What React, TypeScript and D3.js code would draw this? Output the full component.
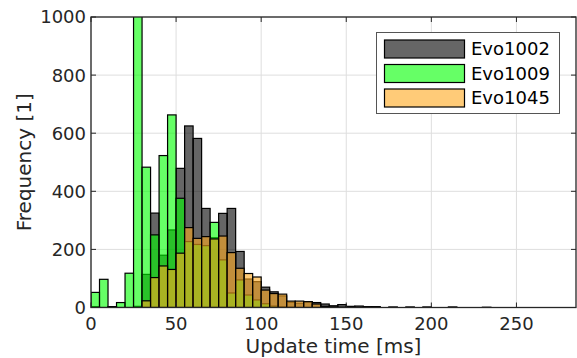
import React, { useEffect, useRef } from "react";
import * as d3 from "d3";

const binWidth = 5;
const seriesNames = ["Evo1002", "Evo1009", "Evo1045"];
const evo1002 = [3, 0, 3, 0, 0, 4, 114, 325, 180, 267, 479, 625, 582, 341, 240, 324, 341, 193, 98, 89, 70, 54, 40, 18, 15, 20, 17, 12, 6, 10, 4, 5, 3, 3, 0, 2, 0, 2, 0, 2, 0, 0, 2, 0, 0, 0, 1];
const evo1009 = [52, 97, 3, 17, 118, 1100, 483, 250, 523, 663, 376, 227, 217, 213, 293, 164, 50, 95, 43, 26, 13, 5, 2, 1, 0, 0, 0, 0, 0, 0, 0, 0, 0, 0, 0, 0, 0, 0, 0, 0, 0, 0, 0, 0, 0, 0, 0];
const evo1045 = [0, 0, 0, 0, 0, 0, 23, 103, 143, 131, 187, 275, 238, 244, 236, 246, 189, 135, 117, 105, 60, 48, 46, 22, 22, 20, 12, 4, 2, 1, 1, 0, 0, 0, 0, 0, 0, 0, 0, 0, 0, 0, 0, 0, 0, 0, 0];
const seriesColors = ["rgb(0,0,0)", "rgb(0,255,0)", "rgb(255,168,30)"];
const xTicks = [0, 50, 100, 150, 200, 250];
const yTicks = [0, 200, 400, 600, 800, 1000];
const xDomain = [0, 285];
const yDomain = [0, 1000];
const xLabel = "Update time [ms]";
const yLabel = "Frequency [1]";

const W = 577, H = 358;
const M = { left: 91, top: 17, right: 1, bottom: 50.5 };
const FONT = "'DejaVu Sans', sans-serif";
const TXT = "#262626";

export default function App() {
  const ref = useRef<SVGSVGElement>(null);
  useEffect(() => {
    const svg = d3.select(ref.current);
    svg.selectAll("*").remove();
    const pw = W - M.left - M.right;
    const ph = H - M.top - M.bottom;
    const x = d3.scaleLinear().domain(xDomain).range([M.left, M.left + pw]);
    const y = d3.scaleLinear().domain(yDomain).range([M.top + ph, M.top]);

    svg.append("defs").append("clipPath").attr("id", "clip")
      .append("rect").attr("x", M.left).attr("y", M.top).attr("width", pw).attr("height", ph);

    svg.append("rect").attr("x", M.left).attr("y", M.top).attr("width", pw).attr("height", ph).attr("fill", "white");

    const grid = svg.append("g").attr("stroke", "#dedede").attr("stroke-width", 1);
    xTicks.forEach(t => grid.append("line").attr("x1", x(t)).attr("x2", x(t)).attr("y1", M.top).attr("y2", M.top + ph));
    yTicks.forEach(t => grid.append("line").attr("x1", M.left).attr("x2", M.left + pw).attr("y1", y(t)).attr("y2", y(t)));

    const bars = svg.append("g").attr("clip-path", "url(#clip)");
    [evo1002, evo1009, evo1045].forEach((data, si) => {
      const g = bars.append("g");
      g.selectAll("rect").data(data).join("rect")
        .attr("x", (_, i) => x(i * binWidth))
        .attr("width", (_, i) => x((i + 1) * binWidth) - x(i * binWidth))
        .attr("y", d => y(d))
        .attr("height", d => y(0) - y(d))
        .attr("fill", seriesColors[si])
        .attr("fill-opacity", 0.6)
        .attr("stroke", "#000")
        .attr("stroke-width", 1.2);
    });

    // frame
    const ax = svg.append("g").attr("stroke", TXT).attr("fill", "none");
    ax.append("rect").attr("x", M.left).attr("y", M.top).attr("width", pw).attr("height", ph).attr("stroke-width", 1.3);
    const tl = 5;
    xTicks.forEach(t => {
      ax.append("line").attr("x1", x(t)).attr("x2", x(t)).attr("y1", M.top + ph).attr("y2", M.top + ph - tl);
      ax.append("line").attr("x1", x(t)).attr("x2", x(t)).attr("y1", M.top).attr("y2", M.top + tl);
    });
    yTicks.forEach(t => {
      ax.append("line").attr("x1", M.left).attr("x2", M.left + tl).attr("y1", y(t)).attr("y2", y(t));
      ax.append("line").attr("x1", M.left + pw).attr("x2", M.left + pw - tl).attr("y1", y(t)).attr("y2", y(t));
    });

    const tx = svg.append("g").attr("font-family", FONT).attr("fill", TXT);
    xTicks.forEach(t => tx.append("text").attr("x", x(t)).attr("y", 330).attr("text-anchor", "middle").attr("font-size", 18).text(t));
    yTicks.forEach(t => tx.append("text").attr("x", M.left - 5).attr("y", y(t)).attr("dy", "0.36em").attr("text-anchor", "end").attr("font-size", 18).text(t));
    tx.append("text").attr("x", M.left + pw / 2).attr("y", 352.5).attr("text-anchor", "middle").attr("font-size", 20).text(xLabel);
    tx.append("text").attr("transform", `translate(31,${M.top + ph / 2}) rotate(-90)`).attr("text-anchor", "middle").attr("font-size", 20).text(yLabel);

    // legend
    const lg = svg.append("g");
    lg.append("rect").attr("x", 376.5).attr("y", 32.5).attr("width", 183).attr("height", 81).attr("fill", "white").attr("stroke", "#555").attr("stroke-width", 1);
    seriesNames.forEach((n, i) => {
      const yy = 40 + i * 24.5;
      lg.append("rect").attr("x", 384.5).attr("y", yy).attr("width", 80).attr("height", 18)
        .attr("fill", seriesColors[i]).attr("fill-opacity", 0.6).attr("stroke", "#000").attr("stroke-width", 1.2);
      lg.append("text").attr("x", 471).attr("y", yy + 9).attr("dy", "0.36em").attr("font-family", FONT).attr("font-size", 18).attr("fill", "#000").text(n);
    });
  }, []);
  return (
    <svg ref={ref} width={W} height={H} style={{ position: "absolute", left: 0, top: 0, background: "white" }} />
  );
}
